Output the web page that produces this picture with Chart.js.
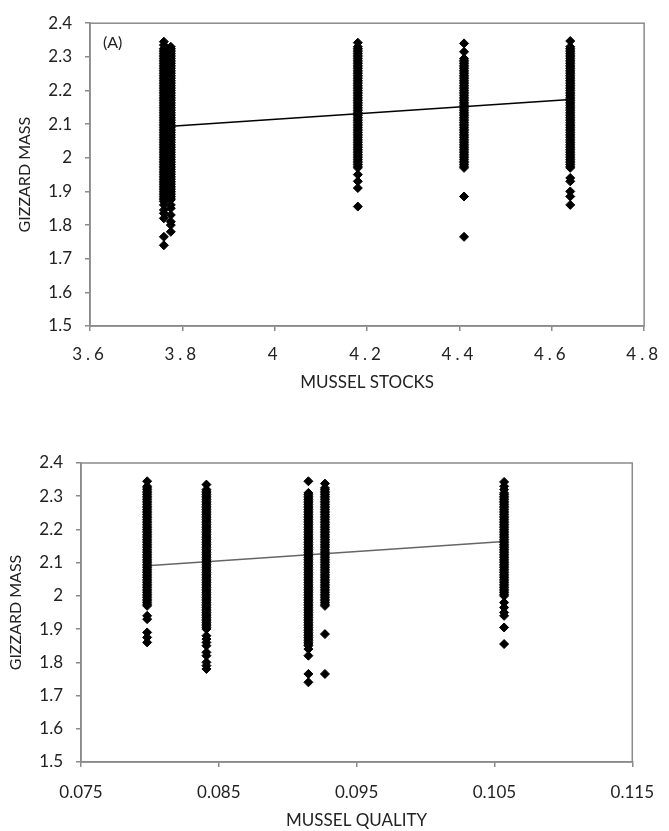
<!DOCTYPE html>
<html>
<head>
<meta charset="utf-8">
<script src="https://cdn.jsdelivr.net/npm/chart.js@4"></script>
<style>
  body { margin: 0; background: #fff; }
  .wrap { position: absolute; left: 0; width: 669px; }
</style>
</head>
<body>
<div class="wrap" style="top:0;height:400px"><canvas id="stocksChart" width="669" height="400"></canvas></div>
<div class="wrap" style="top:400px;height:431px"><canvas id="qualityChart" width="669" height="431"></canvas></div>
<script>
// (A) gizzard mass against mussel stocks
const stockLevels = [3.76, 3.775, 4.18, 4.41, 4.64];
const massStock376 = [2.345, 2.335, 2.325, 2.32, 2.315, 2.31, 2.305, 2.3, 2.295, 2.29, 2.285, 2.28, 2.275, 2.27, 2.265, 2.26, 2.255, 2.25, 2.245, 2.24, 2.235, 2.23, 2.225, 2.22, 2.215, 2.21, 2.205, 2.2, 2.195, 2.19, 2.185, 2.18, 2.175, 2.17, 2.165, 2.16, 2.155, 2.15, 2.145, 2.14, 2.135, 2.13, 2.125, 2.12, 2.115, 2.11, 2.105, 2.1, 2.095, 2.09, 2.085, 2.08, 2.075, 2.07, 2.065, 2.06, 2.055, 2.05, 2.045, 2.04, 2.035, 2.03, 2.025, 2.02, 2.015, 2.01, 2.005, 2, 1.995, 1.99, 1.985, 1.98, 1.975, 1.97, 1.965, 1.96, 1.955, 1.95, 1.945, 1.94, 1.935, 1.93, 1.925, 1.92, 1.915, 1.91, 1.905, 1.9, 1.895, 1.89, 1.885, 1.88, 1.875, 1.87, 1.86, 1.845, 1.835, 1.82, 1.765, 1.74];
const massStock377 = [2.33, 2.325, 2.32, 2.315, 2.31, 2.305, 2.3, 2.295, 2.29, 2.285, 2.28, 2.275, 2.27, 2.265, 2.26, 2.255, 2.25, 2.245, 2.24, 2.235, 2.23, 2.225, 2.22, 2.215, 2.21, 2.205, 2.2, 2.195, 2.19, 2.185, 2.18, 2.175, 2.17, 2.165, 2.16, 2.155, 2.15, 2.145, 2.14, 2.135, 2.13, 2.125, 2.12, 2.115, 2.11, 2.105, 2.1, 2.095, 2.09, 2.085, 2.08, 2.075, 2.07, 2.065, 2.06, 2.055, 2.05, 2.045, 2.04, 2.035, 2.03, 2.025, 2.02, 2.015, 2.01, 2.005, 2, 1.995, 1.99, 1.985, 1.98, 1.975, 1.97, 1.965, 1.96, 1.955, 1.95, 1.945, 1.94, 1.935, 1.93, 1.925, 1.92, 1.915, 1.91, 1.905, 1.9, 1.895, 1.89, 1.885, 1.88, 1.875, 1.86, 1.85, 1.83, 1.81, 1.8, 1.78];
const massStock418 = [2.342, 2.33, 2.325, 2.32, 2.315, 2.31, 2.305, 2.3, 2.295, 2.29, 2.285, 2.28, 2.275, 2.27, 2.265, 2.26, 2.255, 2.25, 2.245, 2.24, 2.235, 2.23, 2.225, 2.22, 2.215, 2.21, 2.205, 2.2, 2.195, 2.19, 2.185, 2.18, 2.175, 2.17, 2.165, 2.16, 2.155, 2.15, 2.145, 2.14, 2.135, 2.13, 2.125, 2.12, 2.115, 2.11, 2.105, 2.1, 2.095, 2.09, 2.085, 2.08, 2.075, 2.07, 2.065, 2.06, 2.055, 2.05, 2.045, 2.04, 2.035, 2.03, 2.025, 2.02, 2.015, 2.01, 2.005, 2, 1.995, 1.99, 1.985, 1.98, 1.975, 1.97, 1.95, 1.93, 1.91, 1.855];
const massStock441 = [2.34, 2.315, 2.295, 2.29, 2.285, 2.28, 2.275, 2.27, 2.265, 2.26, 2.255, 2.25, 2.245, 2.24, 2.235, 2.23, 2.225, 2.22, 2.215, 2.21, 2.205, 2.2, 2.195, 2.19, 2.185, 2.18, 2.175, 2.17, 2.165, 2.16, 2.155, 2.15, 2.145, 2.14, 2.135, 2.13, 2.125, 2.12, 2.115, 2.11, 2.105, 2.1, 2.095, 2.09, 2.085, 2.08, 2.075, 2.07, 2.065, 2.06, 2.055, 2.05, 2.045, 2.04, 2.035, 2.03, 2.025, 2.02, 2.015, 2.01, 2.005, 2, 1.995, 1.99, 1.985, 1.98, 1.975, 1.97, 1.885, 1.765];
const massStock464 = [2.347, 2.33, 2.325, 2.32, 2.315, 2.31, 2.305, 2.3, 2.295, 2.29, 2.285, 2.28, 2.275, 2.27, 2.265, 2.26, 2.255, 2.25, 2.245, 2.24, 2.235, 2.23, 2.225, 2.22, 2.215, 2.21, 2.205, 2.2, 2.195, 2.19, 2.185, 2.18, 2.175, 2.17, 2.165, 2.16, 2.155, 2.15, 2.145, 2.14, 2.135, 2.13, 2.125, 2.12, 2.115, 2.11, 2.105, 2.1, 2.095, 2.09, 2.085, 2.08, 2.075, 2.07, 2.065, 2.06, 2.055, 2.05, 2.045, 2.04, 2.035, 2.03, 2.025, 2.02, 2.015, 2.01, 2.005, 2, 1.995, 1.99, 1.985, 1.98, 1.975, 1.97, 1.94, 1.93, 1.9, 1.885, 1.86];
const stockTrendX = [3.76, 4.64];
const stockTrendY = [2.092, 2.173];

// gizzard mass against mussel quality
const qualityLevels = [0.0798, 0.0841, 0.0915, 0.0927, 0.1057];
const massQual0798 = [2.345, 2.33, 2.325, 2.32, 2.315, 2.31, 2.305, 2.3, 2.295, 2.29, 2.285, 2.28, 2.275, 2.27, 2.265, 2.26, 2.255, 2.25, 2.245, 2.24, 2.235, 2.23, 2.225, 2.22, 2.215, 2.21, 2.205, 2.2, 2.195, 2.19, 2.185, 2.18, 2.175, 2.17, 2.165, 2.16, 2.155, 2.15, 2.145, 2.14, 2.135, 2.13, 2.125, 2.12, 2.115, 2.11, 2.105, 2.1, 2.095, 2.09, 2.085, 2.08, 2.075, 2.07, 2.065, 2.06, 2.055, 2.05, 2.045, 2.04, 2.035, 2.03, 2.025, 2.02, 2.015, 2.01, 2.005, 2, 1.995, 1.99, 1.985, 1.98, 1.975, 1.97, 1.94, 1.93, 1.89, 1.875, 1.86];
const massQual0841 = [2.335, 2.32, 2.315, 2.31, 2.305, 2.3, 2.295, 2.29, 2.285, 2.28, 2.275, 2.27, 2.265, 2.26, 2.255, 2.25, 2.245, 2.24, 2.235, 2.23, 2.225, 2.22, 2.215, 2.21, 2.205, 2.2, 2.195, 2.19, 2.185, 2.18, 2.175, 2.17, 2.165, 2.16, 2.155, 2.15, 2.145, 2.14, 2.135, 2.13, 2.125, 2.12, 2.115, 2.11, 2.105, 2.1, 2.095, 2.09, 2.085, 2.08, 2.075, 2.07, 2.065, 2.06, 2.055, 2.05, 2.045, 2.04, 2.035, 2.03, 2.025, 2.02, 2.015, 2.01, 2.005, 2, 1.995, 1.99, 1.985, 1.98, 1.975, 1.97, 1.965, 1.96, 1.955, 1.95, 1.945, 1.94, 1.935, 1.93, 1.925, 1.92, 1.915, 1.91, 1.905, 1.9, 1.88, 1.87, 1.86, 1.85, 1.83, 1.82, 1.8, 1.79, 1.78];
const massQual0915 = [2.345, 2.31, 2.305, 2.3, 2.295, 2.29, 2.285, 2.28, 2.275, 2.27, 2.265, 2.26, 2.255, 2.25, 2.245, 2.24, 2.235, 2.23, 2.225, 2.22, 2.215, 2.21, 2.205, 2.2, 2.195, 2.19, 2.185, 2.18, 2.175, 2.17, 2.165, 2.16, 2.155, 2.15, 2.145, 2.14, 2.135, 2.13, 2.125, 2.12, 2.115, 2.11, 2.105, 2.1, 2.095, 2.09, 2.085, 2.08, 2.075, 2.07, 2.065, 2.06, 2.055, 2.05, 2.045, 2.04, 2.035, 2.03, 2.025, 2.02, 2.015, 2.01, 2.005, 2, 1.995, 1.99, 1.985, 1.98, 1.975, 1.97, 1.965, 1.96, 1.955, 1.95, 1.945, 1.94, 1.935, 1.93, 1.925, 1.92, 1.915, 1.91, 1.905, 1.9, 1.895, 1.89, 1.885, 1.88, 1.875, 1.87, 1.865, 1.86, 1.855, 1.85, 1.84, 1.82, 1.765, 1.74];
const massQual0927 = [2.338, 2.325, 2.32, 2.315, 2.31, 2.305, 2.3, 2.295, 2.29, 2.285, 2.28, 2.275, 2.27, 2.265, 2.26, 2.255, 2.25, 2.245, 2.24, 2.235, 2.23, 2.225, 2.22, 2.215, 2.21, 2.205, 2.2, 2.195, 2.19, 2.185, 2.18, 2.175, 2.17, 2.165, 2.16, 2.155, 2.15, 2.145, 2.14, 2.135, 2.13, 2.125, 2.12, 2.115, 2.11, 2.105, 2.1, 2.095, 2.09, 2.085, 2.08, 2.075, 2.07, 2.065, 2.06, 2.055, 2.05, 2.045, 2.04, 2.035, 2.03, 2.025, 2.02, 2.015, 2.01, 2.005, 2, 1.995, 1.99, 1.985, 1.98, 1.975, 1.97, 1.885, 1.765];
const massQual1057 = [2.343, 2.33, 2.32, 2.31, 2.305, 2.3, 2.295, 2.29, 2.285, 2.28, 2.275, 2.27, 2.265, 2.26, 2.255, 2.25, 2.245, 2.24, 2.235, 2.23, 2.225, 2.22, 2.215, 2.21, 2.205, 2.2, 2.195, 2.19, 2.185, 2.18, 2.175, 2.17, 2.165, 2.16, 2.155, 2.15, 2.145, 2.14, 2.135, 2.13, 2.125, 2.12, 2.115, 2.11, 2.105, 2.1, 2.095, 2.09, 2.085, 2.08, 2.075, 2.07, 2.065, 2.06, 2.055, 2.05, 2.045, 2.04, 2.035, 2.03, 2.025, 2.02, 2.015, 2.01, 2.005, 2, 1.98, 1.965, 1.95, 1.94, 1.905, 1.855];
const qualityTrendX = [0.0798, 0.1057];
const qualityTrendY = [2.091, 2.164];

const axisGrey = '#8a8a8a';
Chart.defaults.font.family = 'Lato, "Open Sans", sans-serif';
Chart.defaults.font.size = 17;
Chart.defaults.color = '#222';

function toPoints(levels, columns) {
    const pts = [];
    columns.forEach((col, i) => col.forEach(v => pts.push({ x: levels[i], y: v })));
    return pts;
}

// grey box round the plot area, like the spreadsheet original
const frame = {
    id: 'frame',
    afterDraw(chart) {
        const a = chart.chartArea, c = chart.ctx;
        c.save();
        c.strokeStyle = axisGrey;
        c.lineWidth = 1.5;
        c.strokeRect(a.left, a.top, a.right - a.left, a.bottom - a.top);
        const tag = chart.options.plugins.frame && chart.options.plugins.frame.tag;
        if (tag) {
            c.fillStyle = '#222';
            c.font = '16px Lato, sans-serif';
            c.fillText(tag, a.left + 13, a.top + 25);
        }
        c.restore();
    }
};

// wide-spaced x labels in panel A
const spacedXLabels = {
    id: 'spacedXLabels',
    afterUpdate(chart) {
        const sx = chart.scales.x;
        if (sx._spaced) return;
        const draw = sx.drawLabels;
        sx.drawLabels = function (area) {
            this.ctx.save();
            this.ctx.letterSpacing = '4px';
            draw.call(this, area);
            this.ctx.restore();
        };
        sx._spaced = true;
    }
};

function makeChart(id, cfg) {
    const plugins = [frame];
    if (cfg.spaced) plugins.push(spacedXLabels);
    return new Chart(document.getElementById(id), {
        type: 'scatter',
        data: {
            datasets: [{
                data: toPoints(cfg.levels, cfg.columns),
                pointStyle: 'rectRot',
                pointRadius: 4.5,
                pointBorderWidth: 1,
                backgroundColor: '#000',
                borderColor: '#000'
            }, {
                type: 'line',
                data: cfg.trendX.map((x, i) => ({ x: x, y: cfg.trendY[i] })),
                borderColor: cfg.trendColor,
                borderWidth: 1.5,
                pointRadius: 0,
                fill: false
            }]
        },
        options: {
            responsive: false,
            animation: false,
            layout: { padding: { top: cfg.top, right: cfg.right, left: 0, bottom: 0 } },
            plugins: { legend: { display: false }, tooltip: { enabled: false }, frame: { tag: cfg.tag } },
            scales: {
                x: {
                    type: 'linear',
                    min: cfg.xMin, max: cfg.xMax,
                    afterFit: s => { s.height = cfg.xHeight; },
                    ticks: { stepSize: cfg.xStep, padding: cfg.xTickPad, callback: v => String(+v.toFixed(cfg.xDec)) },
                    grid: { drawOnChartArea: false, tickLength: 5, color: axisGrey, lineWidth: 1.5 },
                    border: { color: axisGrey, width: 1.5 },
                    title: { display: true, text: cfg.xTitle, padding: { top: 0, bottom: cfg.xTitlePad } }
                },
                y: {
                    min: 1.5, max: 2.4,
                    afterFit: s => { s.width = cfg.yWidth; },
                    ticks: { stepSize: 0.1, padding: 13, callback: v => String(+v.toFixed(1)) },
                    grid: { drawOnChartArea: false, tickLength: 5, color: axisGrey, lineWidth: 1.5 },
                    border: { color: axisGrey, width: 1.5 },
                    title: { display: true, text: 'GIZZARD MASS', font: { size: 16 }, padding: { top: cfg.yTitlePad, bottom: 0 } }
                }
            }
        },
        plugins: plugins
    });
}

makeChart('stocksChart', {
    levels: stockLevels,
    columns: [massStock376, massStock377, massStock418, massStock441, massStock464],
    trendX: stockTrendX, trendY: stockTrendY, trendColor: '#000',
    xMin: 3.6, xMax: 4.8, xStep: 0.2, xDec: 1,
    xTitle: 'MUSSEL STOCKS', tag: '(A)', spaced: true,
    top: 16, right: 16, xHeight: 74, yWidth: 90,
    xTickPad: 13, xTitlePad: 7, yTitlePad: 15
});

makeChart('qualityChart', {
    levels: qualityLevels,
    columns: [massQual0798, massQual0841, massQual0915, massQual0927, massQual1057],
    trendX: qualityTrendX, trendY: qualityTrendY, trendColor: '#666',
    xMin: 0.075, xMax: 0.115, xStep: 0.01, xDec: 3,
    xTitle: 'MUSSEL QUALITY', tag: '', spaced: false,
    top: 63, right: 28, xHeight: 69, yWidth: 81,
    xTickPad: 15, xTitlePad: 0, yTitlePad: 6
});
</script>
</body>
</html>
